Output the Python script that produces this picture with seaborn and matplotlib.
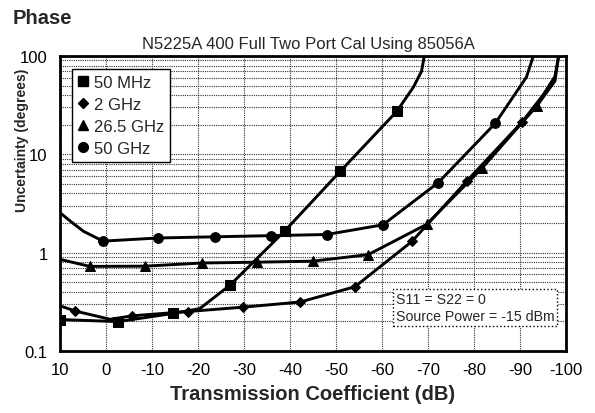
import matplotlib
matplotlib.use("Agg")
import matplotlib.pyplot as plt
import seaborn as sns
import pandas as pd
from matplotlib.lines import Line2D
from matplotlib.ticker import FixedLocator, NullFormatter, LogLocator

sns.set_theme(style="white")
plt.rcParams['font.family'] = ['Liberation Sans', 'DejaVu Sans']

# ---- data ----
mhz50_x = [10, -2.6, -14.6, -20.4, -27, -38.9, -50.9, -63.2, -66.8, -68.6, -69.2]
mhz50_y = [0.209, 0.199, 0.241, 0.27, 0.469, 1.67, 6.7, 27.3, 48, 70, 100]
mhz50_marks = [0, 1, 2, 4, 5, 6, 7]

ghz2_x = [10, 6.7, -0.9, -5.7, -17.8, -29.8, -42.2, -54.1, -66.5, -78.4, -90.4, -95.0, -97.6, -98.4]
ghz2_y = [0.288, 0.255, 0.21, 0.228, 0.252, 0.279, 0.315, 0.45, 1.30, 5.33, 21.2, 40, 62, 100]
ghz2_marks = [1, 3, 4, 5, 6, 7, 8, 9, 10]

ghz26_x = [10, 3.5, -8.5, -20.8, -32.8, -45.0, -57.0, -69.7, -81.7, -93.7, -97.6, -98.4]
ghz26_y = [0.855, 0.725, 0.729, 0.785, 0.80, 0.82, 0.955, 1.94, 7.2, 31.2, 55.7, 100]
ghz26_marks = [1, 2, 3, 4, 5, 6, 7, 8, 9]

ghz50_x = [10, 7.8, 4.9, 0.65, -11.3, -23.7, -35.9, -48.0, -60.2, -72.2, -84.6, -91.4, -92.9]
ghz50_y = [2.55, 2.1, 1.65, 1.31, 1.41, 1.45, 1.49, 1.53, 1.92, 5.14, 20.6, 61, 100]
ghz50_marks = [3, 4, 5, 6, 7, 8, 9, 10]

series_labels = ["50 MHz", "2 GHz", "26.5 GHz", "50 GHz"]
x_ticks = [10, 0, -10, -20, -30, -40, -50, -60, -70, -80, -90, -100]
y_ticks = [0.1, 1, 10, 100]
y_tick_labels = ["0.1", "1", "10", "100"]

title_text = "Phase"
subtitle_text = "N5225A 400 Full Two Port Cal Using 85056A"
note_text = "S11 = S22 = 0\nSource Power = -15 dBm"

# ---- figure ----
fig = plt.figure(figsize=(5.95, 4.14), dpi=100)
ax = fig.add_axes([60/595, 1-352/414, 506/595, 295/414])

series = [
    (mhz50_x, mhz50_y, mhz50_marks, "s", 6.5),
    (ghz2_x, ghz2_y, ghz2_marks, "D", 5.5),
    (ghz26_x, ghz26_y, ghz26_marks, "^", 7),
    (ghz50_x, ghz50_y, ghz50_marks, "o", 7),
]
for (xs, ys, mk, m, ms), lab in zip(series, series_labels):
    df = pd.DataFrame({"x": xs, "y": ys})
    sns.lineplot(data=df, x="x", y="y", ax=ax, color="black", lw=2.1,
                 sort=False, estimator=None, marker=m, markersize=ms,
                 markevery=mk, markeredgecolor="black", markerfacecolor="black",
                 legend=False)

ax.set_yscale("log")
ax.set_xlim(10, -100)
ax.set_ylim(0.1, 100)
ax.xaxis.set_major_locator(FixedLocator(x_ticks))
ax.set_xticklabels([str(t) for t in x_ticks])
ax.yaxis.set_major_locator(FixedLocator(y_ticks))
ax.set_yticklabels(y_tick_labels)
ax.yaxis.set_minor_locator(LogLocator(base=10, subs=range(2, 10)))
ax.yaxis.set_minor_formatter(NullFormatter())
ax.tick_params(axis="both", which="both", length=0, labelsize=12, colors="black")
ax.tick_params(axis="x", pad=8)
ax.tick_params(axis="y", pad=9)

ax.grid(True, which="major", axis="both", color="#333333", linestyle=(0, (1, 1)), lw=0.8)
ax.grid(True, which="minor", axis="y", color="#333333", linestyle=(0, (1, 1)), lw=0.8)
for s in ax.spines.values():
    s.set_visible(True)
    s.set_color("black")
    s.set_linewidth(2.0)

ax.set_xlabel("Transmission Coefficient (dB)", fontsize=14.5, fontweight="bold", labelpad=5)
ax.set_ylabel("")
fig.text(22/595, 1-140/414, "Uncertainty (degrees)", rotation=90, fontsize=10,
         fontweight="bold", ha="center", va="center")

fig.text(13/595, 1-18/414, title_text, fontsize=14.5, fontweight="bold", ha="left", va="center")
fig.text(308/595, 1-45/414, subtitle_text, fontsize=12, ha="center", va="center")

handles = [Line2D([], [], color="black", marker=m, linestyle="none", markersize=ms)
           for (_, _, _, m, ms) in series]
leg = ax.legend(handles, series_labels, loc="upper left", bbox_to_anchor=(0.023, 0.956),
                borderaxespad=0, fontsize=12, frameon=True, fancybox=False,
                handlelength=0.7, handletextpad=0.3, labelspacing=0.42,
                borderpad=0.35, framealpha=1)
leg.get_frame().set_edgecolor("black")
leg.get_frame().set_linewidth(1.0)

ax.text(0.664, 0.2, note_text, transform=ax.transAxes, fontsize=10.2, ha="left", va="top",
        linespacing=1.25,
        bbox=dict(boxstyle="square,pad=0.2", fc="white", ec="black", ls=":", lw=1))

fig.savefig("out.png", dpi=100)
